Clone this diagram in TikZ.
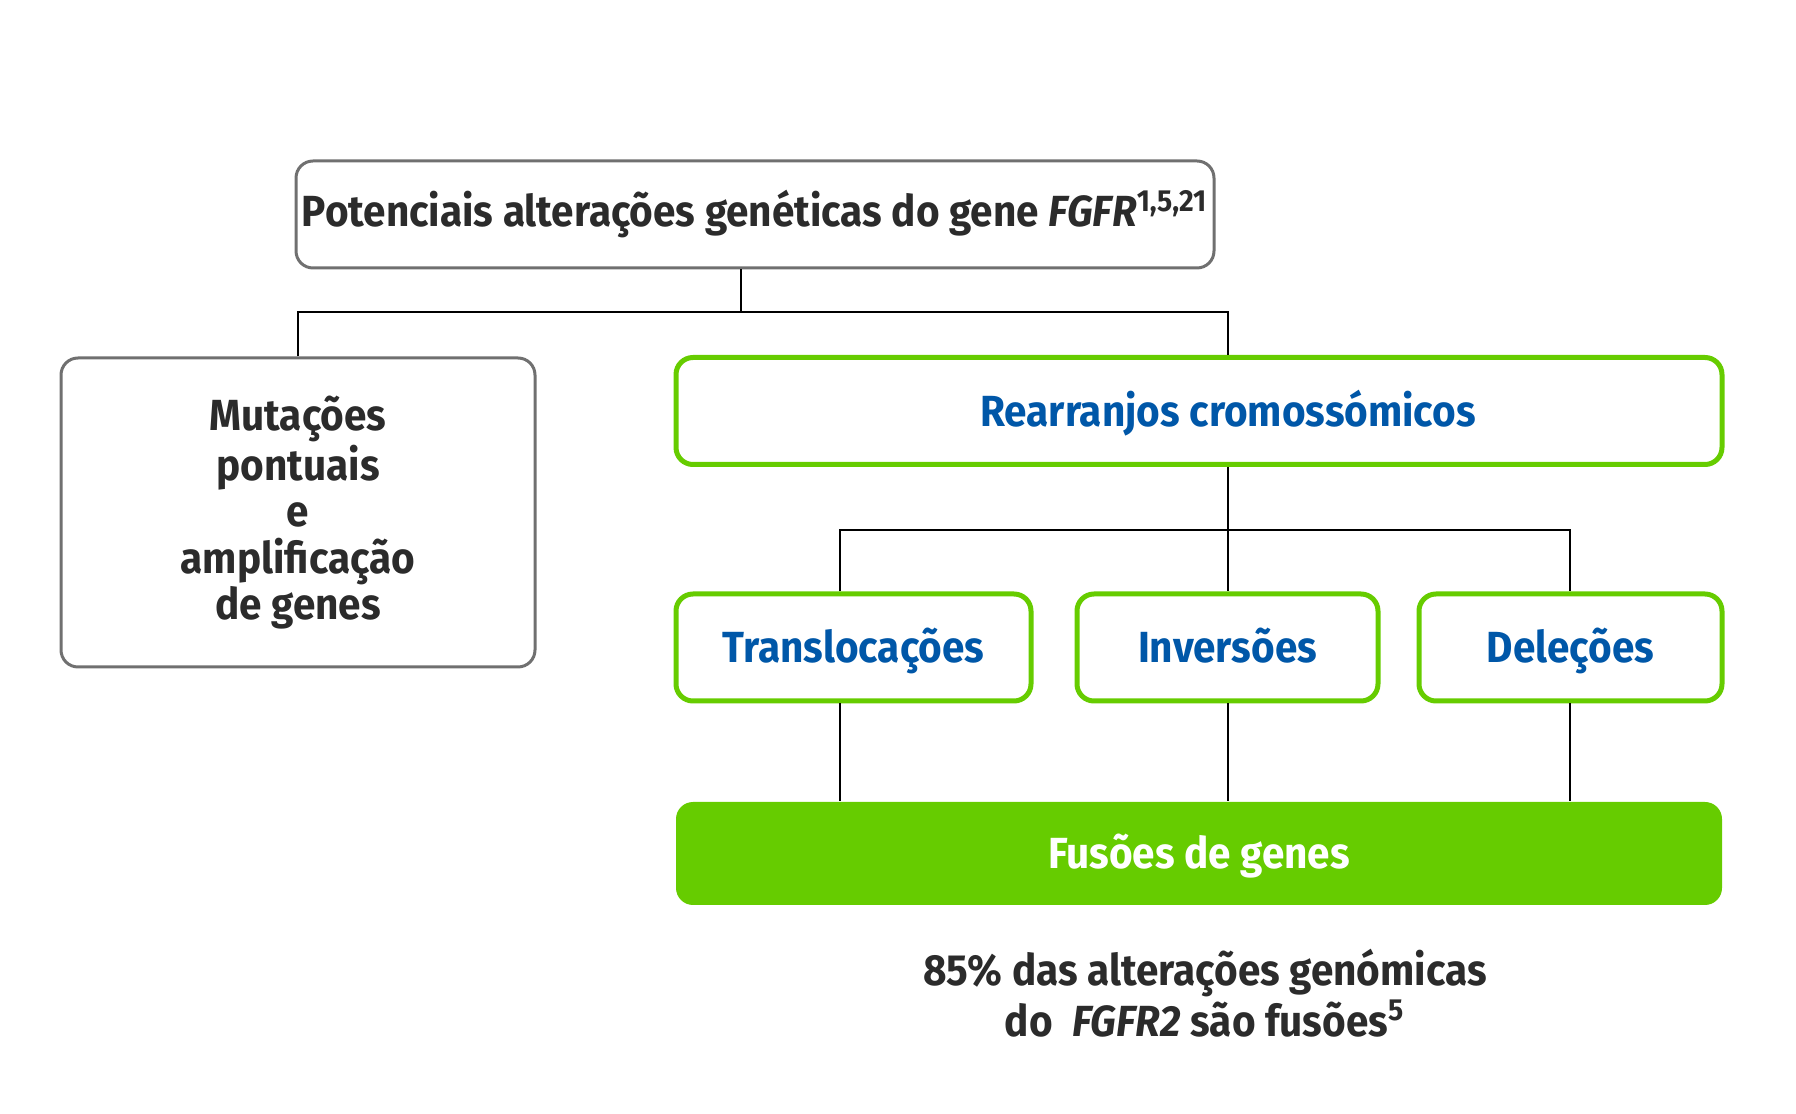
\documentclass[tikz,border=0pt]{standalone}
\usepackage{fontspec}
\setmainfont{Fira Sans}[FakeStretch=0.93]
\usetikzlibrary{positioning}
\definecolor{leafgreen}{HTML}{66CC00}
\definecolor{deepblue}{HTML}{0057A8}
\definecolor{inkgray}{HTML}{2B2B2B}
\definecolor{edgegray}{HTML}{707070}

\begin{document}
\begin{tikzpicture}[x=0.1mm,y=-0.1mm,
font=\fontsize{12.4}{13.2}\selectfont\bfseries]
\tikzstyle{graybox}=[draw=edgegray,line width=0.3mm,rounded corners=1.7mm,text=inkgray,align=center,inner xsep=0pt]
\tikzstyle{greenbox}=[draw=leafgreen,line width=0.5mm,rounded corners=1.7mm,text=deepblue,minimum height=10.7mm,text height=0.88em,text depth=0pt]
\tikzstyle{fusebox}=[fill=leafgreen,rounded corners=1.7mm,text=white,minimum height=10.3mm,text height=0.84em,text depth=0pt]
\tikzstyle{link}=[line width=0.2mm,black]

\useasboundingbox (0,0) rectangle (1796,1114);

\node[graybox,minimum width=91.8mm,minimum height=10.7mm] (P) at (755,214.5) {Potenciais alterações genéticas do gene \textit{FGFR}\textsuperscript{1,5,21}};
\node[graybox,minimum width=47.4mm,minimum height=30.9mm] (M) at (298,512.5) {Mutações\\pontuais\\e\\amplificação\\de genes};

\node[greenbox,minimum width=104.6mm] (R)  at (1199,411) {};
\node[text=deepblue,text height=0.88em,text depth=0pt] (Rt) at (1228,411) {Rearranjos cromossómicos};

\node[greenbox,minimum width=35.5mm] (T) at (853.5,647.5) {Translocações};
\node[greenbox,minimum width=30.1mm] (I) [right=4.1mm of T] {Inversões};
\node[greenbox,minimum width=30.3mm] (D) [right=3.6mm of I] {Deleções};

\node[fusebox,minimum width=104.6mm] (F) at (1199,853.5) {Fusões de genes};
\node[text=inkgray,align=center] (N) at (1205,993) {85\% das alterações genómicas\\do~ \textit{FGFR2} são fusões\textsuperscript{5}};

\coordinate (j1) at (741,312);
\coordinate (tl) at (840,530);
\coordinate (dl) at (1570,530);

\draw[link] (P.south -| j1) -- (j1);
\draw[link] (M.north) -- (M.north |- j1) -- (j1 -| Rt) -- (R.north -| Rt);
\draw[link] (R.south -| I) -- (I.north);
\draw[link] (T.north -| tl) -- (tl) -- (dl) -- (D.north -| dl);

\draw[link] (T.south -| tl) -- (F.north -| tl);
\draw[link] (I.south) -- (I.south |- F.north);
\draw[link] (D.south -| dl) -- (F.north -| dl);
\end{tikzpicture}
\end{document}
